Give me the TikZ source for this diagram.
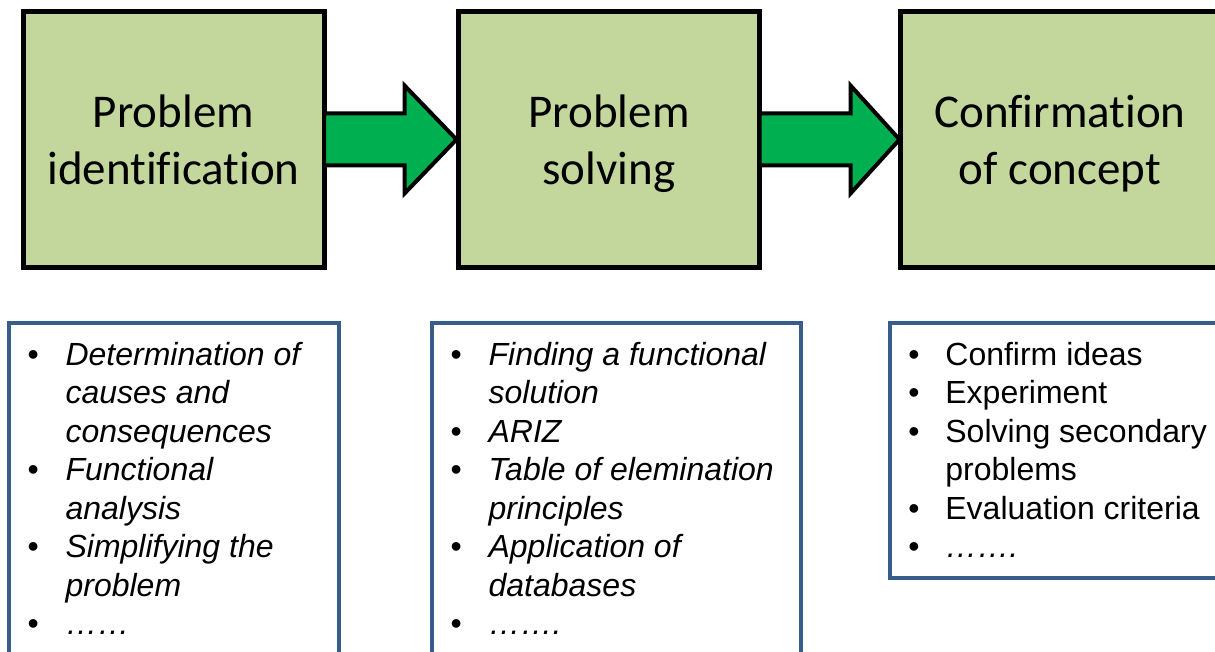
\documentclass[tikz,border=0pt]{standalone}
\usepackage{fontspec}
\setmainfont{Carlito}[Ligatures=NoCommon]
\newfontfamily\listfont{Liberation Sans}
\usepackage{tikz}
\usetikzlibrary{positioning}
\definecolor{stagegreen}{HTML}{C3D69B}
\definecolor{arrowgreen}{HTML}{00B050}
\definecolor{frameblue}{HTML}{385D8A}
\tikzset{
  stage/.style={draw=black, fill=stagegreen, line width=5pt, inner sep=0pt, outer sep=0pt,
    minimum height=256pt, align=center, text depth=0pt, font=\fontsize{47}{57}\selectfont},
  bigarrow/.style={draw=black, fill=arrowgreen, line width=4pt, line join=miter},
  listframe/.style={draw=frameblue, fill=white, line width=4pt, inner sep=0pt, outer sep=0pt},
  listtext/.style={inner sep=0pt, anchor=base west, font=\listfont\fontsize{32}{38.5}\selectfont},
}

\begin{document}
\begin{tikzpicture}[x=1pt, y=-1pt]
    \useasboundingbox (0,0) rectangle (1215,652);
    \clip (0,0) rectangle (1215,652);
    \node[stage, minimum width=301pt] (ident) at (173.5,139.5) {Problem\\identification};
    \node[stage, minimum width=301pt] (solve) at (609,139.5) {Problem\\solving};
    \node[stage, minimum width=319pt] (confirm) at (1060,139.5) {Confirmation\\of concept};
    \draw[bigarrow] ([yshift=26]ident.east) -- ([xshift=-54,yshift=26]solve.west)
      -- ([xshift=-54,yshift=54]solve.west) -- ([xshift=-2]solve.west)
      -- ([xshift=-54,yshift=-54]solve.west) -- ([xshift=-54,yshift=-26]solve.west)
      -- ([yshift=-26]ident.east) -- cycle;
    \draw[bigarrow] ([yshift=26]solve.east) -- ([xshift=-50,yshift=26]confirm.west)
      -- ([xshift=-50,yshift=54]confirm.west) -- ([xshift=-1]confirm.west)
      -- ([xshift=-50,yshift=-54]confirm.west) -- ([xshift=-50,yshift=-26]confirm.west)
      -- ([yshift=-26]solve.east) -- cycle;
    \node[listframe, minimum width=329.8pt, minimum height=331pt] (causes) at (173.6,488.5) {};
    \node[listframe, minimum width=368.5pt, minimum height=331pt] (methods) at (616.25,488.5) {};
    \node[listframe, minimum width=340.3pt, minimum height=254.5pt] (checks) at (1059.85,450.25) {};
    \node[listtext] (causeslist) at ([xshift=18.7,yshift=-42]causes.north west) {%
      \begin{tabular}[t]{@{}p{38pt}@{}l@{}}
      • & \textit{Determination of}\\
        & \textit{causes and}\\
        & \textit{consequences}\\
      • & \textit{Functional}\\
        & \textit{analysis}\\
      • & \textit{Simplifying the}\\
        & \textit{problem}\\
      • & \textit{……}
      \end{tabular}};
    \node[listtext] (methodslist) at ([xshift=18.4,yshift=-42]methods.north west) {%
      \begin{tabular}[t]{@{}p{38pt}@{}l@{}}
      • & \textit{Finding a functional}\\
        & \textit{solution}\\
      • & \textit{ARIZ}\\
      • & \textit{Table of elemination}\\
        & \textit{principles}\\
      • & \textit{Application of}\\
        & \textit{databases}\\
      • & \textit{…….}
      \end{tabular}};
    \node[listtext] (checkslist) at ([xshift=18.5,yshift=-42]checks.north west) {%
      \begin{tabular}[t]{@{}p{37pt}@{}l@{}}
      • & Confirm ideas\\
      • & Experiment\\
      • & Solving secondary\\
        & problems\\
      • & Evaluation criteria\\
      • & \textit{…….}
      \end{tabular}};
\end{tikzpicture}
\end{document}
